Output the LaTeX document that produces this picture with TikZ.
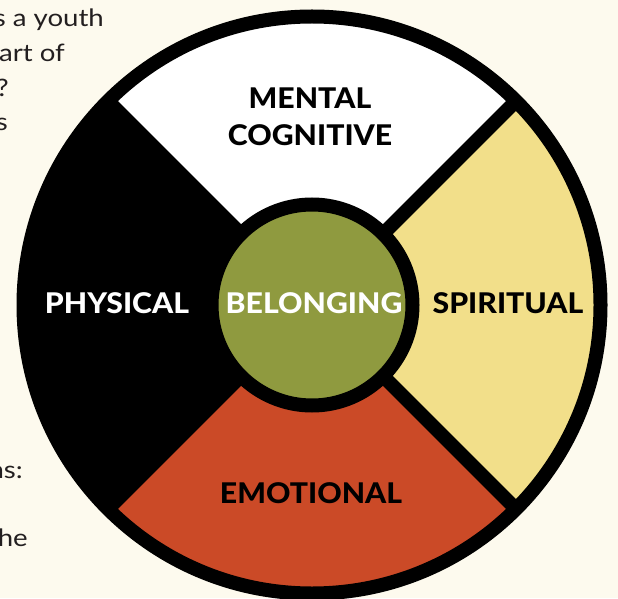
\documentclass[tikz,border=0pt]{standalone}
\usepackage{fontspec}
\setmainfont{Lato}
\newfontfamily\bodyfont{Lato}[FakeStretch=1.15]
\newfontfamily\labelfont{Lato Heavy}[FakeStretch=1.06]
\usetikzlibrary{calc}
\definecolor{bgcream}{HTML}{FDFAEE}
\definecolor{wheelyellow}{HTML}{F2DF8A}
\definecolor{wheelred}{HTML}{CB4A27}
\definecolor{wheelgreen}{HTML}{8F9A3F}
\definecolor{bodytext}{HTML}{231F20}
\tikzset{
  bodyline/.style={anchor=base east, inner sep=0pt, text=bodytext, font=\bodyfont\fontsize{24}{24}\selectfont},
  wheellabel/.style={anchor=center, inner sep=0pt, font=\labelfont\fontsize{28.5}{28.5}\selectfont},
  ring/.style={draw=black, line width=14pt},
  divider/.style={draw=black, line width=14pt}
}
\begin{document}
\begin{tikzpicture}[x=1pt,y=1pt]
\useasboundingbox (0,0) rectangle (618,598);
\fill[bgcream] (0,0) rectangle (618,598);
\begin{scope}
\clip (0,0) rectangle (618,598);
% partial paragraph text on the left
\node[bodyline] (t1) at (104,571) {s a youth};
\node[bodyline] (t2) at (65,536.5) {art of};
\node[bodyline] (t3) at (9,501.5) {?};
\node[bodyline] (t4) at (8,467) {s};
\node[bodyline] (t5) at (23,120) {ns:};
\node[bodyline] (t6) at (28,51.5) {he};
% wheel
\coordinate (c) at (312,293);
\fill[white] (c) -- ++(45:289) arc[start angle=45,end angle=135,radius=289] -- cycle;
\fill[black] (c) -- ++(135:289) arc[start angle=135,end angle=225,radius=289] -- cycle;
\fill[wheelred] (c) -- ++(225:289) arc[start angle=225,end angle=315,radius=289] -- cycle;
\fill[wheelyellow] (c) -- ++(-45:289) arc[start angle=-45,end angle=45,radius=289] -- cycle;
\coordinate (d1) at ($(c)+(45:289)$);
\coordinate (d2) at ($(c)+(135:289)$);
\coordinate (d3) at ($(c)+(225:289)$);
\coordinate (d4) at ($(c)+(315:289)$);
\draw[divider] (d1) -- (d3);
\draw[divider] (d2) -- (d4);
\draw[ring] (c) circle[radius=288.5];
\filldraw[ring, fill=wheelgreen] (c) circle[radius=100.5];
% labels
\node[wheellabel, text=black] (mental) at (310,500) {MENTAL};
\node[wheellabel, text=black] (cognitive) at (310,463) {COGNITIVE};
\node[wheellabel, text=white] (physical) at (117,295) {PHYSICAL};
\node[wheellabel, text=white] (belonging) at (314,295) {BELONGING};
\node[wheellabel, text=black] (spiritual) at (508,295) {SPIRITUAL};
\node[wheellabel, text=black] (emotional) at (311,105) {EMOTIONAL};
\end{scope}
\end{tikzpicture}
\end{document}
